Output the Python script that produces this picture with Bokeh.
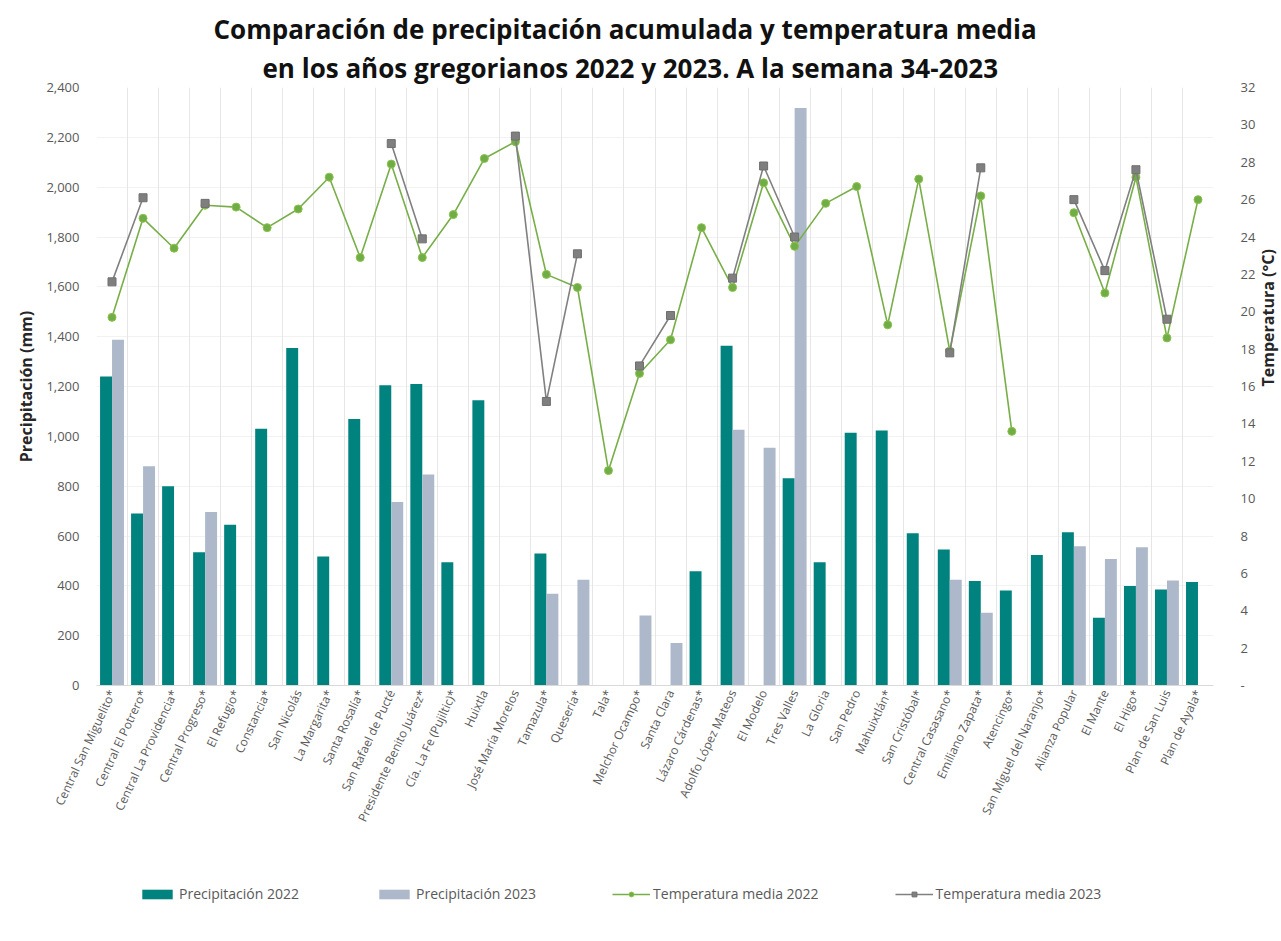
import math
from bokeh.plotting import figure
from bokeh.layouts import column
from bokeh.models import (ColumnDataSource, FactorRange, Range1d, LinearAxis, FixedTicker,
                          NumeralTickFormatter, Legend, LegendItem, Title, Grid)
from bokeh.transform import dodge
from bokeh.embed import file_html
from bokeh.resources import INLINE

nan = float("nan")

categories = [
    "Central San Miguelito*", "Central El Potrero*", "Central La Providencia*", "Central Progreso*",
    "El Refugio*", "Constancia*", "San Nicolás", "La Margarita*", "Santa Rosalía*",
    "San Rafael de Pucté", "Presidente Benito Juárez*", "Cía. La Fe (Pujiltic)*", "Huixtla",
    "José María Morelos", "Tamazula*", "Quesería*", "Tala*", "Melchor Ocampo*", "Santa Clara",
    "Lázaro Cárdenas*", "Adolfo López Mateos", "El Modelo", "Tres Valles", "La Gloria",
    "San Pedro", "Mahuixtlán*", "San Cristóbal*", "Central Casasano*", "Emiliano Zapata*",
    "Atencingo*", "San Miguel del Naranjo*", "Alianza Popular", "El Mante", "El Higo*",
    "Plan de San Luis", "Plan de Ayala*",
]

precip_2022 = [1240, 690, 800, 535, 645, 1030, 1355, 518, 1070, 1205, 1210, 495, 1145, nan,
               530, nan, nan, nan, nan, 459, 1364, nan, 832, 495, 1014, 1023, 611, 546, 419,
               381, 524, 615, 272, 399, 385, 415]
precip_2023 = [1388, 880, nan, 696, nan, nan, nan, nan, nan, 736, 847, nan, nan, nan,
               368, 424, nan, 281, 171, nan, 1026, 954, 2318, nan, nan, nan, nan, 424, 292,
               nan, nan, 559, 508, 555, 421, nan]
temp_2022 = [19.7, 25.0, 23.4, 25.7, 25.6, 24.5, 25.5, 27.2, 22.9, 27.9, 22.9, 25.2, 28.2, 29.1,
             22.0, 21.3, 11.5, 16.7, 18.5, 24.5, 21.3, 26.9, 23.5, 25.8, 26.7, 19.3, 27.1, 17.9,
             26.2, 13.6, nan, 25.3, 21.0, 27.2, 18.6, 26.0]
temp_2023 = [21.6, 26.1, nan, 25.8, nan, nan, nan, nan, nan, 29.0, 23.9, nan, nan, 29.4,
             15.2, 23.1, nan, 17.1, 19.8, nan, 21.8, 27.8, 24.0, nan, nan, nan, nan, 17.8,
             27.7, nan, nan, 26.0, 22.2, 27.6, 19.6, nan]

precip_ticks = list(range(0, 2401, 200))
temp_ticks = list(range(0, 33, 2))

title_line1 = "Comparación de precipitación acumulada y temperatura media"
title_line2 = "en los años gregorianos 2022 y 2023. A la semana 34-2023"
left_title = "Precipitación (mm)"
right_title = "Temperatura (°C)"
series_names = ["Precipitación 2022", "Precipitación 2023",
                "Temperatura media 2022", "Temperatura media 2023"]

FONT = "Open Sans"
TEAL = "#00827F"
LAV = "#ADB9CA"
GREEN = "#70AD47"
GREEN_LINE = "#78AE48"
GRAY = "#7F7F7F"
GRAY_LINE = "#808080"
TICK_COLOR = "#595959"

def present(vals):
    xs, ys = [], []
    for c, v in zip(categories, vals):
        if v == v:
            xs.append(c)
            ys.append(v)
    return dict(x=xs, top=ys)

p = figure(frame_width=1117, frame_height=598, x_range=FactorRange(factors=categories),
           y_range=Range1d(0, 2400), output_backend="svg", toolbar_location=None,
           min_border_left=96, min_border_right=60, min_border_top=87, min_border_bottom=185)
p.extra_y_ranges = {"temp": Range1d(0, 32)}
p.outline_line_color = None
p.background_fill_color = "white"
p.border_fill_color = "white"

# grids
p.xgrid.visible = False
p.ygrid.grid_line_color = "#f2f2f2"
p.ygrid.ticker = FixedTicker(ticks=precip_ticks)
vgrid = Grid(dimension=0, ticker=FixedTicker(ticks=list(range(len(categories) + 1))),
             grid_line_color="#e6e6e6", grid_line_width=1)
p.add_layout(vgrid)

# bars
src22 = ColumnDataSource(present(precip_2022))
src23 = ColumnDataSource(present(precip_2023))
p.vbar(x=dodge("x", -0.193, range=p.x_range), top="top", width=0.385,
       fill_color=TEAL, line_color=None, source=src22)
p.vbar(x=dodge("x", 0.193, range=p.x_range), top="top", width=0.385,
       fill_color=LAV, line_color=None, source=src23)

# temperature lines
srct = ColumnDataSource(dict(x=categories, t22=temp_2022, t23=temp_2023))
p.line("x", "t22", source=srct, y_range_name="temp", line_color=GREEN_LINE, line_width=1.6)
p.scatter("x", "t22", source=srct, y_range_name="temp", marker="circle", size=8,
          fill_color=GREEN, line_color="#8BC34A", line_width=1)
p.line("x", "t23", source=srct, y_range_name="temp", line_color=GRAY_LINE, line_width=1.6)
p.scatter("x", "t23", source=srct, y_range_name="temp", marker="square", size=8,
          fill_color=GRAY, line_color="#6f6f6f", line_width=1)

# axes
xa = p.xaxis[0]
xa.major_label_orientation = math.radians(65)
xa.major_label_text_font = FONT
xa.major_label_text_font_size = "12px"
xa.major_label_text_color = TICK_COLOR
xa.major_tick_line_color = None
xa.major_tick_out = 0
xa.major_label_standoff = 5
xa.axis_line_color = "#d9d9d9"

ya = p.yaxis[0]
ya.ticker = FixedTicker(ticks=precip_ticks)
ya.formatter = NumeralTickFormatter(format="0,0")
ya.major_label_text_font = FONT
ya.major_label_text_font_size = "13px"
ya.major_label_text_color = TICK_COLOR
ya.major_tick_line_color = None
ya.minor_tick_line_color = None
ya.major_tick_out = 0
ya.major_label_standoff = 17
ya.axis_line_color = None
ya.axis_label = left_title
ya.axis_label_text_font = FONT
ya.axis_label_text_font_size = "16px"
ya.axis_label_text_font_style = "bold"
ya.axis_label_text_color = "#262626"
ya.axis_label_standoff = 6

ra = LinearAxis(y_range_name="temp", ticker=FixedTicker(ticks=temp_ticks),
                major_label_overrides={0: "-"})
ra.major_label_text_font = FONT
ra.major_label_text_font_size = "13px"
ra.major_label_text_color = TICK_COLOR
ra.major_tick_line_color = None
ra.minor_tick_line_color = None
ra.major_tick_out = 0
ra.major_label_standoff = 27
ra.axis_line_color = None
ra.axis_label = right_title
ra.axis_label_text_font = FONT
ra.axis_label_text_font_size = "16px"
ra.axis_label_text_font_style = "bold"
ra.axis_label_text_color = "#262626"
ra.axis_label_standoff = 10
if "axis_label_orientation" in ra.properties():
    ra.axis_label_orientation = math.pi / 2
p.add_layout(ra, "right")

# titles
p.add_layout(Title(text=title_line2, align="left", offset=166, text_font=FONT,
                   text_font_size="26px", text_font_style="bold", text_color="#111111",
                   standoff=3), "above")
p.add_layout(Title(text=title_line1, align="left", offset=117, text_font=FONT,
                   text_font_size="26px", text_font_style="bold", text_color="#111111",
                   standoff=0), "above")

# legend strip (separate figure placed under the chart)
lg = figure(width=1270, height=46, x_range=Range1d(0, 1), y_range=Range1d(0, 1),
            output_backend="svg", toolbar_location=None,
            x_axis_location=None, y_axis_location=None,
            min_border_left=0, min_border_right=0, min_border_top=0, min_border_bottom=0)
lg.grid.visible = False
lg.outline_line_color = None
lg.border_fill_color = "white"

def key_source():
    return ColumnDataSource(dict(x=[nan], top=[nan], y=[nan]))

k22 = lg.vbar(x="x", top="top", width=0.1, fill_color=TEAL, line_color=None, source=key_source())
k23 = lg.vbar(x="x", top="top", width=0.1, fill_color=LAV, line_color=None, source=key_source())
kl22 = lg.line("x", "y", line_color=GREEN_LINE, line_width=1.6, source=key_source())
km22 = lg.scatter("x", "y", marker="circle", size=7, fill_color=GREEN, line_color="#8BC34A",
                  source=key_source())
kl23 = lg.line("x", "y", line_color=GRAY_LINE, line_width=1.6, source=key_source())
km23 = lg.scatter("x", "y", marker="square", size=7, fill_color=GRAY, line_color="#6f6f6f",
                  source=key_source())
legend = Legend(items=[
    LegendItem(label=series_names[0], renderers=[k22]),
    LegendItem(label=series_names[1], renderers=[k23]),
    LegendItem(label=series_names[2], renderers=[kl22, km22]),
    LegendItem(label=series_names[3], renderers=[kl23, km23]),
], orientation="horizontal", location=(42, 13), spacing=76, glyph_width=38, glyph_height=12,
    label_standoff=3, border_line_color=None, background_fill_alpha=0, padding=6, margin=0,
    label_text_font=FONT, label_text_font_size="14px", label_text_color=TICK_COLOR)
lg.add_layout(legend, "center")

open("out.html", "w").write(file_html(column(p, lg, spacing=0), INLINE))
